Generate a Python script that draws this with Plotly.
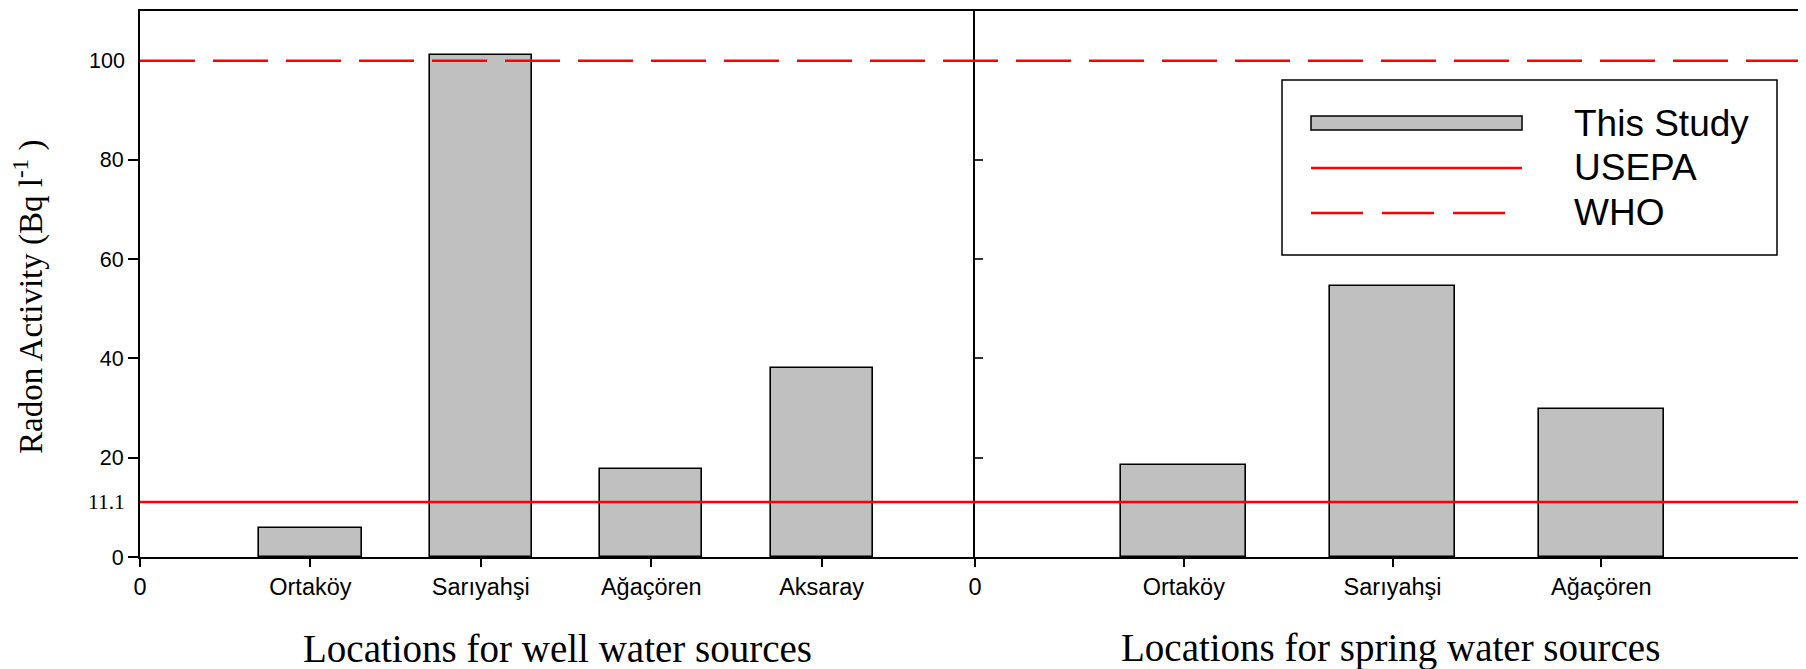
import plotly.graph_objects as go

# ---- data ----
well_locations = ["Ortaköy", "Sarıyahşi", "Ağaçören", "Aksaray"]
well_values = [5.9, 101.1, 17.8, 38.0]
spring_locations = ["Ortaköy", "Sarıyahşi", "Ağaçören"]
spring_values = [18.6, 54.5, 29.9]
usepa_limit = 11.1
who_limit = 100
y_ticks = [0, 20, 40, 60, 80]
y_extra_ticks = [11.1, 100]
y_extra_labels = ["11.1", "100"]
legend_labels = ["This Study", "USEPA", "WHO"]

OFF = 8  # default page body margin
W, H = 1806 - OFF, 669 - OFF
# plot area in page pixels: left 140.5, top 11.5, bottom 557, right 1806
ML, MT = 140 - OFF, 11 - OFF
MB = 669 - 557
MR = 0
PW, PH = W - ML - MR, H - MT - MB
split = 835 / PW  # domain split between the two panels


def px_x(X):  # page px -> paper
    return (X - OFF - ML) / PW


def px_y(Y):
    return (H - MB - (Y - OFF)) / PH


SANS = "Arial, Liberation Sans, sans-serif"
SERIF = "Times New Roman, Liberation Serif, serif"

fig = go.Figure()

well_x = list(range(1, len(well_locations) + 1))
spring_x = list(range(1, len(spring_locations) + 1))

fig.add_trace(go.Bar(x=well_x, y=well_values, width=0.6, xaxis="x", yaxis="y",
                     marker=dict(color="#C0C0C0", line=dict(color="black", width=1.6)),
                     showlegend=False))
fig.add_trace(go.Bar(x=spring_x, y=spring_values, width=0.6, xaxis="x2", yaxis="y2",
                     marker=dict(color="#C0C0C0", line=dict(color="black", width=1.6)),
                     showlegend=False))

# reference limit lines across both panels
fig.add_shape(type="line", xref="paper", yref="y", x0=0, x1=1, y0=usepa_limit, y1=usepa_limit,
              line=dict(color="#FF0000", width=2.5))
fig.add_shape(type="line", xref="paper", yref="y", x0=0, x1=1, y0=who_limit, y1=who_limit,
              line=dict(color="#FF0000", width=2.5, dash="55px,18px"))

yrange = [0, 110]
axis_common = dict(showgrid=False, zeroline=False, showline=True, linecolor="black", linewidth=2)

fig.update_layout(
    width=W, height=H,
    margin=dict(l=ML, r=MR, t=MT, b=MB, autoexpand=False),
    plot_bgcolor="white", paper_bgcolor="white",
    bargap=0,
    xaxis=dict(domain=[0, split], range=[0, 4.9], anchor="y",
               tickvals=[0] + well_x, ticktext=["0"] + well_locations,
               ticks="outside", ticklen=8, tickwidth=1.5, tickcolor="black",
               mirror=True, tickfont=dict(family=SANS, size=23.5, color="black"),
               **axis_common),
    xaxis2=dict(domain=[split, 1], range=[0, 3.98], anchor="y2",
                tickvals=[0] + spring_x, ticktext=["0"] + spring_locations,
                ticks="outside", ticklen=8, tickwidth=1.5, tickcolor="black",
                mirror=True, tickfont=dict(family=SANS, size=23.5, color="black"),
                **axis_common),
    yaxis=dict(domain=[0, 1], range=yrange, anchor="x",
               tickvals=y_ticks, ticks="outside", ticklen=10, tickwidth=1.5, tickcolor="black",
               tickfont=dict(family=SANS, size=21.5, color="black"),
               **axis_common),
    yaxis2=dict(domain=[0, 1], range=yrange, anchor="x2",
                tickvals=[20, 40, 60, 80, 100], ticks="inside", ticklen=8, tickwidth=1.5,
                tickcolor="#333", showticklabels=False, **axis_common),
)

# extra y labels (no tick marks in the reference)
for v, lab in zip(y_extra_ticks, y_extra_labels):
    fam = SERIF if lab == "11.1" else SANS
    fig.add_annotation(text=lab, xref="paper", yref="y", x=px_x(127), y=v,
                       showarrow=False, xanchor="right", yanchor="middle",
                       font=dict(family=fam, size=21.5, color="black"))

# axis titles
fig.add_annotation(text="Radon Activity (Bq l<sup>-1</sup> )", xref="paper", yref="paper",
                   x=px_x(28), y=px_y(297), textangle=-90, showarrow=False,
                   xanchor="center", yanchor="middle",
                   font=dict(family=SERIF, size=33, color="black"))
fig.add_annotation(text="Locations for well water sources", xref="paper", yref="paper",
                   x=split / 2, y=px_y(648), showarrow=False, xanchor="center", yanchor="middle",
                   font=dict(family=SERIF, size=39, color="black"))
fig.add_annotation(text="Locations for spring water sources", xref="paper", yref="paper",
                   x=(split + 1) / 2, y=px_y(648), showarrow=False, xanchor="center", yanchor="middle",
                   font=dict(family=SERIF, size=39, color="black"))

# custom legend box
fig.add_shape(type="rect", xref="paper", yref="paper",
              x0=px_x(1282), x1=px_x(1777), y0=px_y(255), y1=px_y(80),
              line=dict(color="black", width=1.5), fillcolor="white", layer="above")
fig.add_shape(type="rect", xref="paper", yref="paper",
              x0=px_x(1311), x1=px_x(1522), y0=px_y(130), y1=px_y(116),
              line=dict(color="black", width=1.5), fillcolor="#C0C0C0", layer="above")
fig.add_shape(type="line", xref="paper", yref="paper",
              x0=px_x(1311), x1=px_x(1522), y0=px_y(168), y1=px_y(168),
              line=dict(color="#FF0000", width=2.5), layer="above")
fig.add_shape(type="line", xref="paper", yref="paper",
              x0=px_x(1311), x1=px_x(1505), y0=px_y(213), y1=px_y(213),
              line=dict(color="#FF0000", width=2.5, dash="52px,19px"), layer="above")
for label, yc in zip(legend_labels, [123, 167, 212]):
    fig.add_annotation(text=label, xref="paper", yref="paper", x=px_x(1572), y=px_y(yc),
                       showarrow=False, xanchor="left", yanchor="middle",
                       font=dict(family=SANS, size=37, color="black"))

fig.write_html("out.html")
